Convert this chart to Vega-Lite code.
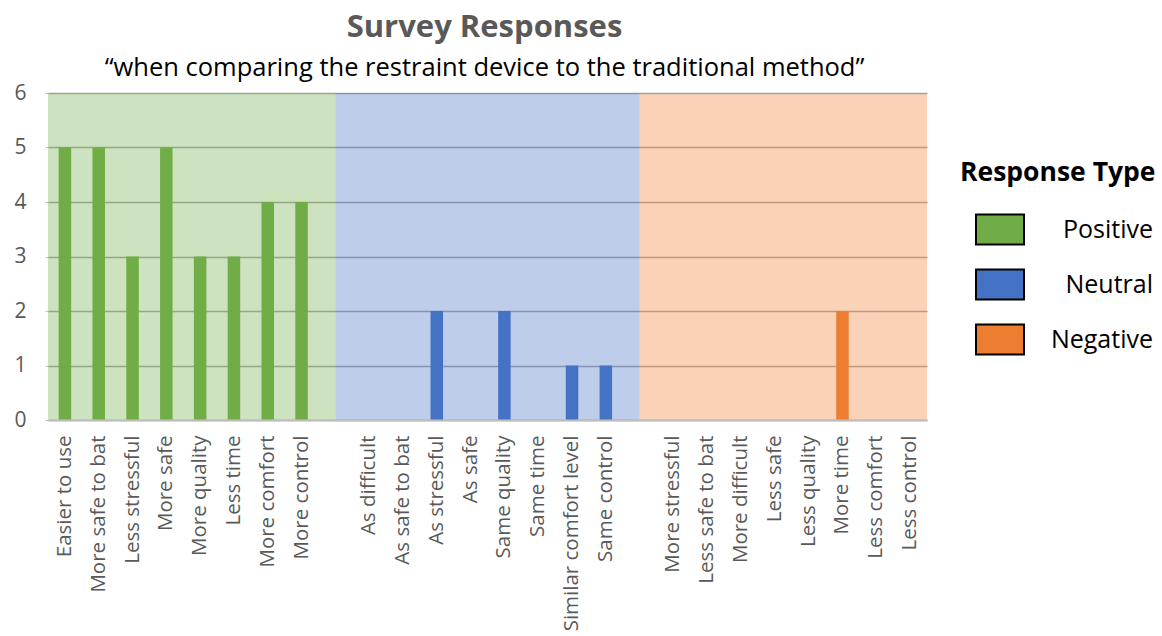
{
  "$schema": "https://vega.github.io/schema/vega-lite/v6.json",
  "width": 879,
  "height": 327,
  "autosize": {"type": "none"},
  "padding": {"left": 48, "top": 93, "right": 235, "bottom": 216},
  "background": "white",
  "config": {"view": {"stroke": null}, "font": "Open Sans"},
  "title": {
    "text": "Survey Responses",
    "subtitle": "“when comparing the restraint device to the traditional method”",
    "anchor": "middle",
    "dx": -3,
    "fontSize": 31,
    "fontWeight": "bold",
    "color": "#595959",
    "font": "Open Sans",
    "subtitleFont": "Open Sans",
    "subtitleFontSize": 25.5,
    "subtitleColor": "#000000",
    "subtitlePadding": 12,
    "offset": 0
  },
  "datasets": {
    "responses": [
      {"item": "Easier to use", "type": "Positive", "count": 5},
      {"item": "More safe to bat", "type": "Positive", "count": 5},
      {"item": "Less stressful", "type": "Positive", "count": 3},
      {"item": "More safe", "type": "Positive", "count": 5},
      {"item": "More quality", "type": "Positive", "count": 3},
      {"item": "Less time", "type": "Positive", "count": 3},
      {"item": "More comfort", "type": "Positive", "count": 4},
      {"item": "More control", "type": "Positive", "count": 4},
      {"item": "As difficult", "type": "Neutral", "count": 0},
      {"item": "As safe to bat", "type": "Neutral", "count": 0},
      {"item": "As stressful", "type": "Neutral", "count": 2},
      {"item": "As safe", "type": "Neutral", "count": 0},
      {"item": "Same quality", "type": "Neutral", "count": 2},
      {"item": "Same time", "type": "Neutral", "count": 0},
      {"item": "Similar comfort level", "type": "Neutral", "count": 1},
      {"item": "Same control", "type": "Neutral", "count": 1},
      {"item": "More stressful", "type": "Negative", "count": 0},
      {"item": "Less safe to bat", "type": "Negative", "count": 0},
      {"item": "More difficult", "type": "Negative", "count": 0},
      {"item": "Less safe", "type": "Negative", "count": 0},
      {"item": "Less quality", "type": "Negative", "count": 0},
      {"item": "More time", "type": "Negative", "count": 2},
      {"item": "Less comfort", "type": "Negative", "count": 0},
      {"item": "Less control", "type": "Negative", "count": 0}
    ],
    "regions": [
      {"type": "Positive", "from": "Easier to use", "to": " "},
      {"type": "Neutral", "from": " ", "to": "  "},
      {"type": "Negative", "from": "  ", "to": "Less control"}
    ]
  },
  "layer": [
    {
      "data": {"name": "regions"},
      "transform": [{"filter": "datum.type === 'Positive'"}],
      "mark": {"type": "rect", "fillOpacity": 0.35},
      "encoding": {
        "x": {"field": "from", "type": "nominal", "bandPosition": 0},
        "x2": {"field": "to", "bandPosition": 0.5},
        "y": {"datum": 6, "type": "quantitative"},
        "y2": {"datum": 0},
        "color": {"field": "type", "type": "nominal"}
      }
    },
    {
      "data": {"name": "regions"},
      "transform": [{"filter": "datum.type === 'Neutral'"}],
      "mark": {"type": "rect", "fillOpacity": 0.35},
      "encoding": {
        "x": {"field": "from", "type": "nominal", "bandPosition": 0.5},
        "x2": {"field": "to", "bandPosition": 0.5},
        "y": {"datum": 6, "type": "quantitative"},
        "y2": {"datum": 0},
        "color": {"field": "type", "type": "nominal"}
      }
    },
    {
      "data": {"name": "regions"},
      "transform": [{"filter": "datum.type === 'Negative'"}],
      "mark": {"type": "rect", "fillOpacity": 0.35},
      "encoding": {
        "x": {"field": "from", "type": "nominal", "bandPosition": 0.5},
        "x2": {"field": "to", "bandPosition": 1},
        "y": {"datum": 6, "type": "quantitative"},
        "y2": {"datum": 0},
        "color": {"field": "type", "type": "nominal"}
      }
    },
    {
      "data": {"name": "responses"},
      "mark": {"type": "bar", "width": {"band": 0.37}},
      "encoding": {
        "x": {
          "field": "item",
          "type": "nominal",
          "title": null,
          "scale": {
            "domain": ["Easier to use", "More safe to bat", "Less stressful", "More safe", "More quality", "Less time", "More comfort", "More control", " ", "As difficult", "As safe to bat", "As stressful", "As safe", "Same quality", "Same time", "Similar comfort level", "Same control", "  ", "More stressful", "Less safe to bat", "More difficult", "Less safe", "Less quality", "More time", "Less comfort", "Less control"],
            "paddingInner": 0,
            "paddingOuter": 0
          },
          "axis": {
            "labelAngle": -90,
            "labelFont": "Open Sans",
            "labelFontSize": 20.5,
            "labelColor": "#595959",
            "labelPadding": 15,
            "labelLimit": 300,
            "ticks": false,
            "domainColor": "#BFBFBF",
            "domainWidth": 2,
            "grid": false
          }
        },
        "y": {
          "field": "count",
          "type": "quantitative",
          "title": null,
          "scale": {"domain": [0, 6], "nice": false},
          "axis": {
            "values": [0, 1, 2, 3, 4, 5, 6],
            "format": "d",
            "grid": true,
            "labelFont": "Open Sans",
            "labelFontSize": 21,
            "labelColor": "#595959",
            "labelPadding": 19,
            "tickColor": "#BFBFBF",
            "tickSize": 3,
            "domain": false,
            "gridColor": "#A6A6A6",
            "gridWidth": 1.5
          }
        },
        "color": {
          "field": "type",
          "type": "nominal",
          "scale": {"domain": ["Positive", "Neutral", "Negative"], "range": ["#70AD47", "#4472C4", "#ED7D31"]},
          "legend": {
            "title": "Response Type",
            "orient": "none",
            "legendX": 912,
            "legendY": 67,
            "titleFont": "Open Sans",
            "titleFontSize": 26.5,
            "titleFontWeight": "bold",
            "titleColor": "#000000",
            "titleLimit": 400,
            "titlePadding": 18,
            "symbolType": "M-1,-0.62H1V0.62H-1Z",
            "symbolSize": 2304,
            "symbolOpacity": 1,
            "symbolStrokeColor": "#000000",
            "symbolStrokeWidth": 2,
            "symbolOffset": 15,
            "labelFont": "Open Sans",
            "labelFontSize": 25,
            "labelColor": "#000000",
            "labelAlign": "right",
            "labelOffset": 128,
            "labelLimit": 200,
            "rowPadding": 11,
            "encode": {"symbols": {"update": {"fillOpacity": {"value": 1}, "opacity": {"value": 1}}}}
          }
        }
      }
    }
  ]
}
